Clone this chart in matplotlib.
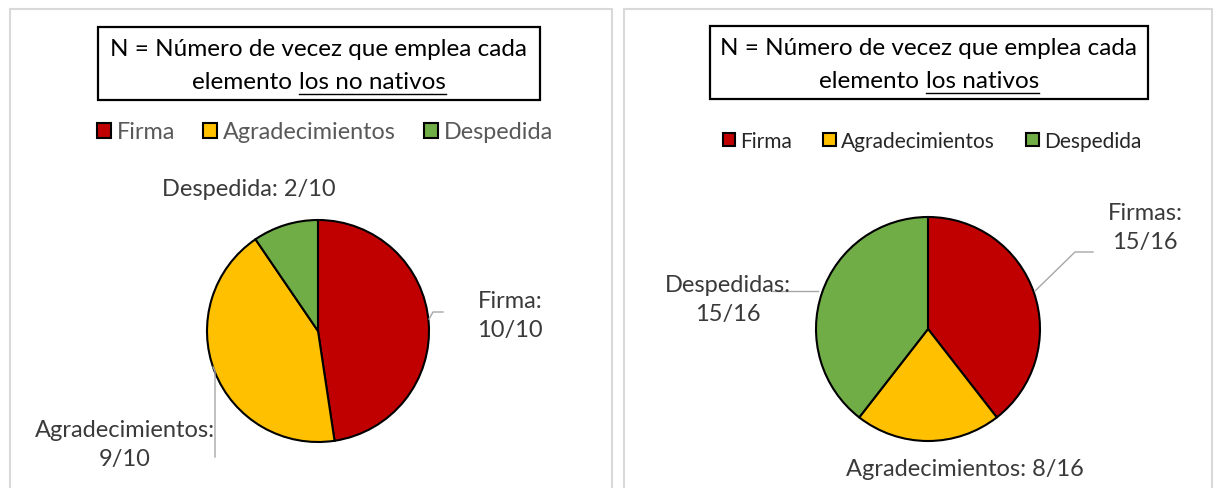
import matplotlib
matplotlib.use("Agg")
import matplotlib.pyplot as plt
from matplotlib.patches import Rectangle
from matplotlib.lines import Line2D

plt.rcParams['font.family'] = ['Lato', 'DejaVu Sans']

# data
categories = ['Firma', 'Agradecimientos', 'Despedida']
no_nativos = [10, 9, 2]
nativos = [15, 8, 15]
labels_no_nativos = ['Firma:\n10/10', 'Agradecimientos:\n9/10', 'Despedida: 2/10']
labels_nativos = ['Firmas:\n15/16', 'Agradecimientos: 8/16', 'Despedidas:\n15/16']
colors = ['#C00000', '#FFC000', '#70AD47']

W, H = 1217, 489
fig = plt.figure(figsize=(W / 100, H / 100), dpi=100)
ax = fig.add_axes([0, 0, 1, 1])

TXT = '#3a3a3a'
LBL = 17
LEADER = '#a6a6a6'


def Y(py):
    # pixel row (top origin) -> data y
    return H - py


def pie_panel(values, center, radius):
    wedges, _ = ax.pie(values, colors=colors, startangle=90, counterclock=False,
                       center=center, radius=radius,
                       wedgeprops=dict(edgecolor='black', linewidth=1.5))
    return wedges


def title_box(x0, x1, y0, y1, line2a, line2b):
    ax.add_patch(Rectangle((x0, Y(y1)), x1 - x0, y1 - y0, fill=False,
                           edgecolor='black', linewidth=1.6, zorder=3))
    cx = (x0 + x1) / 2
    ax.text(cx, Y(y0 + 22), 'N = Número de vecez que emplea cada', ha='center',
            va='center', fontsize=17.5, color='black')
    # second line, the last words underlined
    ta = ax.text(0, Y(y0 + 55), line2a, ha='left', va='center', fontsize=17.5, color='black')
    tb = ax.text(0, Y(y0 + 55), line2b, ha='left', va='center', fontsize=17.5, color='black')
    fig.canvas.draw()
    r = fig.canvas.get_renderer()
    wa = ta.get_window_extent(r).width
    wb = tb.get_window_extent(r).width
    start = cx - (wa + wb) / 2
    ta.set_x(start)
    tb.set_x(start + wa)
    ax.add_line(Line2D([start + wa, start + wa + wb], [Y(y0 + 67), Y(y0 + 67)],
                       color='black', linewidth=1.0))


# panel frames
ax.add_patch(Rectangle((10, Y(495)), 602, 485, fill=False, edgecolor='#d9d9d9', linewidth=1.5))
ax.add_patch(Rectangle((624, Y(495)), 588, 485, fill=False, edgecolor='#d9d9d9', linewidth=1.5))

# left panel: no nativos
w_left = pie_panel(no_nativos, (318, Y(332)), 111)
title_box(98, 540, 28, 101, 'elemento ', 'los no nativos')
leg1 = ax.legend(w_left, categories, loc='center', bbox_to_anchor=(325, Y(133)),
                 bbox_transform=ax.transData, ncol=3, frameon=False, fontsize=16.8,
                 handlelength=0.6, handleheight=0.6, handletextpad=0.25,
                 columnspacing=1.2, labelcolor='#595959')
ax.add_artist(leg1)

ax.text(249, Y(190), labels_no_nativos[2], ha='center', va='center', fontsize=LBL, color=TXT)
ax.text(510, Y(316), labels_no_nativos[0], ha='center', va='center', fontsize=LBL,
        color=TXT, linespacing=1.45)
ax.text(125, Y(445), labels_no_nativos[1], ha='center', va='center', fontsize=LBL,
        color=TXT, linespacing=1.45)
ax.plot([429, 433, 443], [Y(320), Y(313), Y(313)], color=LEADER, linewidth=1)
ax.plot([213, 215, 215], [Y(368), Y(372), Y(458)], color=LEADER, linewidth=1)

# right panel: nativos
w_right = pie_panel(nativos, (928, Y(330)), 112)
title_box(710, 1148, 27, 100, 'elemento ', 'los nativos')
leg2 = ax.legend(w_right, categories, loc='center', bbox_to_anchor=(932, Y(142)),
                 bbox_transform=ax.transData, ncol=3, frameon=False, fontsize=15,
                 handlelength=0.6, handleheight=0.6, handletextpad=0.25,
                 columnspacing=1.5, labelcolor='#262626')

ax.text(1145, Y(228), labels_nativos[0], ha='center', va='center', fontsize=LBL,
        color=TXT, linespacing=1.45)
ax.text(728, Y(300), labels_nativos[2], ha='center', va='center', fontsize=LBL,
        color=TXT, linespacing=1.45)
ax.text(965, Y(470), labels_nativos[1], ha='center', va='center', fontsize=LBL, color=TXT)
ax.plot([1035, 1075, 1093], [Y(292), Y(253), Y(253)], color=LEADER, linewidth=1)
ax.plot([818, 773], [Y(292), Y(292)], color=LEADER, linewidth=1)

ax.set_xlim(0, W)
ax.set_ylim(0, H)
ax.set_aspect('auto')
ax.axis('off')

fig.savefig('out.png', dpi=100)
